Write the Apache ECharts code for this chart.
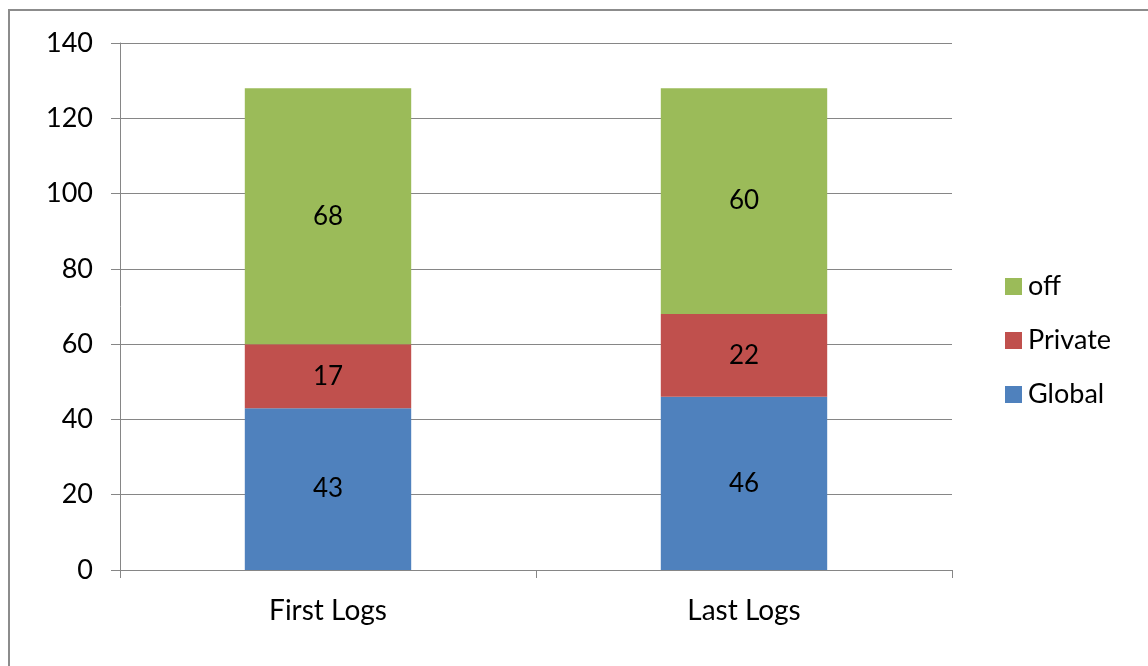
<!DOCTYPE html>
<html>
<head>
<meta charset="utf-8">
<script src="https://cdn.jsdelivr.net/npm/echarts@6/dist/echarts.min.js"></script>
<style>
html,body{margin:0;padding:0;background:#fff;}
#chart{width:1148px;height:666px;}
</style>
</head>
<body>
<div id="chart"></div>
<script>
// Log categories and stacked counts per mode
const categories = ['First Logs', 'Last Logs'];
const globalVals = [43, 46];
const privateVals = [17, 22];
const offVals = [68, 60];
const yTicks = { min: 0, max: 140, interval: 20 };

const FONT = 'Lato, "Open Sans", sans-serif';
const labelStyle = { show: true, position: 'inside', color: '#000', fontSize: 26, fontFamily: FONT };

const chart = echarts.init(document.getElementById('chart'), null, { renderer: 'canvas' });
chart.setOption({
  animation: false,
  backgroundColor: '#fff',
  graphic: [{
    type: 'rect',
    shape: { x: 9, y: 10, width: 1200, height: 700 },
    style: { fill: 'none', stroke: '#8c8c8c', lineWidth: 2 },
    z: 100
  }],
  grid: { left: 120, right: 196, top: 43, bottom: 96, containLabel: false },
  legend: {
    orient: 'vertical',
    left: 1000,
    top: 268,
    itemWidth: 17,
    itemHeight: 17,
    itemGap: 27,
    icon: 'rect',
    data: ['off', 'Private', 'Global'],
    textStyle: { fontSize: 27, fontFamily: FONT, color: '#000', padding: [0, 0, 0, 1] }
  },
  xAxis: {
    type: 'category',
    data: categories,
    axisLine: { lineStyle: { color: '#868686', width: 1 } },
    axisTick: { show: true, length: 8, lineStyle: { color: '#868686' } },
    axisLabel: { color: '#000', fontSize: 28, fontFamily: FONT, margin: 27 }
  },
  yAxis: {
    type: 'value',
    min: yTicks.min,
    max: yTicks.max,
    interval: yTicks.interval,
    axisLine: { show: true, lineStyle: { color: '#868686', width: 1 } },
    axisTick: { show: true, length: 9, lineStyle: { color: '#868686' } },
    splitLine: { lineStyle: { color: '#868686', width: 1 } },
    axisLabel: { color: '#000', fontSize: 27, fontFamily: FONT, margin: 27 }
  },
  series: [
    { name: 'Global', type: 'bar', stack: 'total', data: globalVals, barWidth: '40%',
      itemStyle: { color: '#4F81BD' }, label: labelStyle },
    { name: 'Private', type: 'bar', stack: 'total', data: privateVals, barWidth: '40%',
      itemStyle: { color: '#C0504D' }, label: labelStyle },
    { name: 'off', type: 'bar', stack: 'total', data: offVals, barWidth: '40%',
      itemStyle: { color: '#9BBB59' }, label: labelStyle }
  ]
});
</script>
</body>
</html>
